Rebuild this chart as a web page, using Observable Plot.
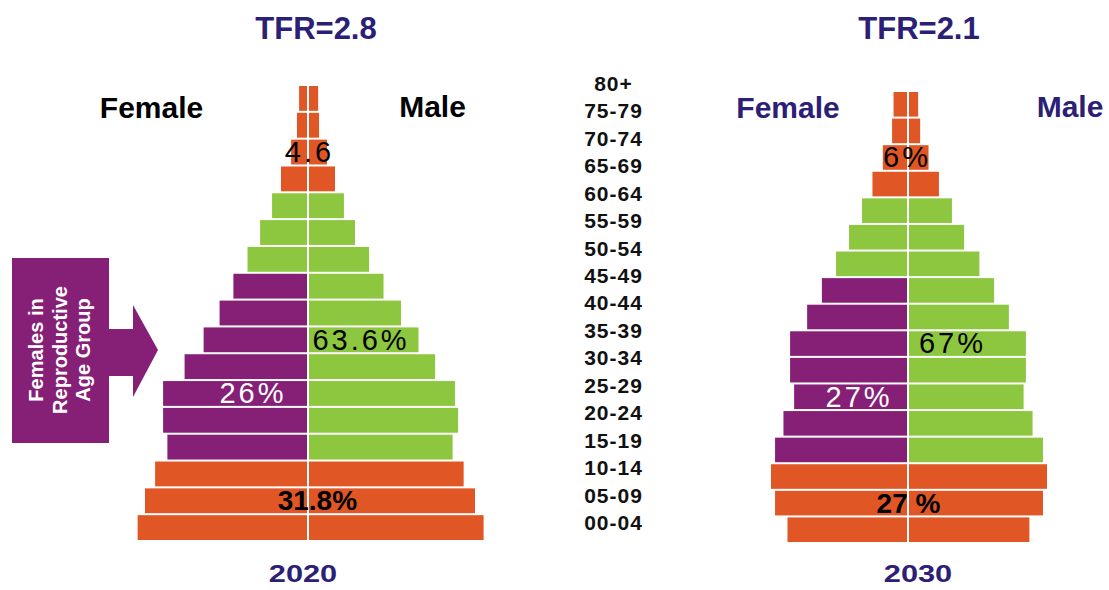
<!DOCTYPE html>
<html><head><meta charset="utf-8">
<script src="https://cdn.jsdelivr.net/npm/d3@7"></script>
<script src="https://cdn.jsdelivr.net/npm/@observablehq/plot@0.6"></script>
<style>
html,body{margin:0;padding:0;background:#fff;}
body{width:1109px;height:590px;position:relative;overflow:hidden;font-family:"Liberation Sans",Arial,sans-serif;}
.abs{position:absolute;white-space:nowrap;line-height:1;}
.plotbox{position:absolute;}
.plotbox svg{background:transparent !important;max-width:none !important;overflow:visible;}
.spaced text{letter-spacing:3px;}
.agelab text{letter-spacing:1px;}
</style></head><body>
<script>
// ---- data ----
const ages = ["80+","75-79","70-74","65-69","60-64","55-59","50-54","45-49","40-44",
              "35-39","30-34","25-29","20-24","15-19","10-14","05-09","00-04"];
// share of total population (%), top (80+) to bottom (00-04)
const female2020 = [0.29,0.36,0.55,0.88,1.17,1.56,1.97,2.43,2.88,3.40,4.02,4.72,4.72,4.58,4.98,5.31,5.55];
const male2020   = [0.33,0.36,0.62,0.88,1.17,1.53,1.99,2.46,3.03,3.60,4.14,4.79,4.89,4.71,5.07,5.44,5.72];
const female2030 = [0.50,0.55,0.87,1.23,1.59,2.04,2.49,2.98,3.49,4.08,4.08,3.94,4.31,4.60,4.74,4.60,4.17];
const male2030   = [0.35,0.42,0.71,1.07,1.52,1.94,2.47,2.98,3.49,4.08,4.08,4.00,4.31,4.67,4.81,4.67,4.20];
const dependentAges = ["80+","75-79","70-74","65-69","10-14","05-09","00-04"];
const reproductiveAges = ["45-49","40-44","35-39","30-34","25-29","20-24","15-19"];
const groups = ["dependent","working","reproductive"];
const groupColors = ["#E15625","#8DC63F","#862077"];
const titles = ["TFR=2.8","TFR=2.1"];
const years = ["2020","2030"];
const sexLabels = ["Female","Male"];
const notes2020 = [
  {text:"4.6",   age:"70-74", x:0.03,  fill:"#000", bold:false},
  {text:"63.6%", age:"35-39", x:1.71,  fill:"#000", bold:false},
  {text:"26%",   age:"25-29", x:-1.81, fill:"#fff", bold:false},
  {text:"31.8%", age:"05-09", x:0.29,  fill:"#000", bold:true}
];
const notes2030 = [
  {text:"6%",   age:"70-74", x:-0.05, fill:"#000", bold:false},
  {text:"67%",  age:"35-39", x:1.52,  fill:"#000", bold:false},
  {text:"27%",  age:"25-29", x:-1.71, fill:"#fff", bold:false},
  {text:"27 %", age:"05-09", x:0.0,   fill:"#000", bold:true}
];
const navy = "#2B2075";

// ---- helpers ----
function groupOf(age, sex){
  if (dependentAges.includes(age)) return "dependent";
  if (sex === "F" && reproductiveAges.includes(age)) return "reproductive";
  return "working";
}
function addText(txt, cx, baseline, size, color, opts={}){
  const d = document.createElement("div");
  d.className = "abs";
  d.textContent = txt;
  d.style.fontSize = size + "px";
  d.style.fontWeight = opts.weight || "bold";
  d.style.color = color;
  d.style.left = cx + "px";
  d.style.top = (baseline - 0.8465*size) + "px";
  d.style.transform = `translateX(-50%) scaleX(${opts.sx||1})`;
  d.style.zIndex = 5;
  document.body.appendChild(d);
}
function place(node, left, top, cls){
  const box = document.createElement("div");
  box.className = "plotbox" + (cls ? " " + cls : "");
  box.style.left = left + "px";
  box.style.top = top + "px";
  box.appendChild(node);
  document.body.appendChild(box);
}
function pyramid(female, male, half, height, notes){
  const F = ages.map((a,i)=>({age:a, v:-female[i], g:groupOf(a,"F")}));
  const M = ages.map((a,i)=>({age:a, v:male[i], g:groupOf(a,"M")}));
  const txt = (bold)=> Plot.text(notes.filter(d=>d.bold===bold), {
    x:"x", y:"age", text:"text", fill:"fill", fontWeight: bold ? "bold" : "normal",
    fontSize: bold ? 28 : 29, fontFamily:"Liberation Sans, Arial, sans-serif",
    textAnchor:"middle", lineAnchor:"middle", className: bold ? "plain" : "spaced"});
  return Plot.plot({
    width:420, height, marginTop:0, marginBottom:0, marginLeft:0, marginRight:0,
    x:{domain:[-half, half], axis:null},
    y:{type:"band", domain:ages, axis:null, padding:0, round:false},
    color:{domain:groups, range:groupColors},
    style:{background:"transparent", overflow:"visible"},
    marks:[
      Plot.barX(F, {x1:0, x2:"v", y:"age", fill:"g", insetTop:1, insetBottom:1, insetRight:1}),
      Plot.barX(M, {x1:0, x2:"v", y:"age", fill:"g", insetTop:1, insetBottom:1, insetLeft:1}),
      txt(false),
      txt(true)
    ]
  });
}

// ---- arrow (annotation shape) ----
const arrow = document.createElementNS("http://www.w3.org/2000/svg","svg");
arrow.setAttribute("width","170"); arrow.setAttribute("height","460");
arrow.style.position="absolute"; arrow.style.left="0"; arrow.style.top="0"; arrow.style.zIndex=4;
arrow.innerHTML = `<polygon fill="${groupColors[2]}" points="12,258 109,258 109,329 133,329 133,305 158,350 133,397 133,376 109,376 109,443 12,443"/>
<g transform="translate(60,350) rotate(-90)" fill="#fff" font-family="Liberation Sans, Arial, sans-serif" font-weight="bold" font-size="20" text-anchor="middle">
<text y="-17">Females in</text><text y="7">Reproductive</text><text y="30">Age Group</text></g>`;
document.body.appendChild(arrow);

// ---- pyramids ----
place(pyramid(female2020, male2020, 210/30.7, 456, notes2020), 98, 85);
place(pyramid(female2030, male2030, 210/28.9, 452, notes2030), 698, 91);

// ---- age labels ----
const ageChart = Plot.plot({
  width:100, height:17*27.44, margin:0,
  x:{domain:[0,1], axis:null},
  y:{type:"band", domain:ages, axis:null, padding:0, round:false},
  style:{background:"transparent", overflow:"visible"},
  marks:[Plot.text(ages, {x:0.5, y:d=>d, text:d=>d, fontSize:21, fontWeight:"bold",
    fill:"#111", fontFamily:"Liberation Sans, Arial, sans-serif", lineAnchor:"middle"})]
});
place(ageChart, 563, 84-13.72, "agelab");

// ---- text ----
addText(titles[0], 316, 39, 31, navy);
addText(titles[1], 919, 39, 31, navy);
addText(sexLabels[0], 151.5, 118, 30, "#000");
addText(sexLabels[1], 432.5, 117, 30, "#000");
addText(sexLabels[0], 788, 118, 30, navy);
addText(sexLabels[1], 1070, 117, 30, navy);
addText(years[0], 302.5, 582, 24, navy, {sx:1.28});
addText(years[1], 917.5, 582, 24, navy, {sx:1.28});
</script>
</body></html>
